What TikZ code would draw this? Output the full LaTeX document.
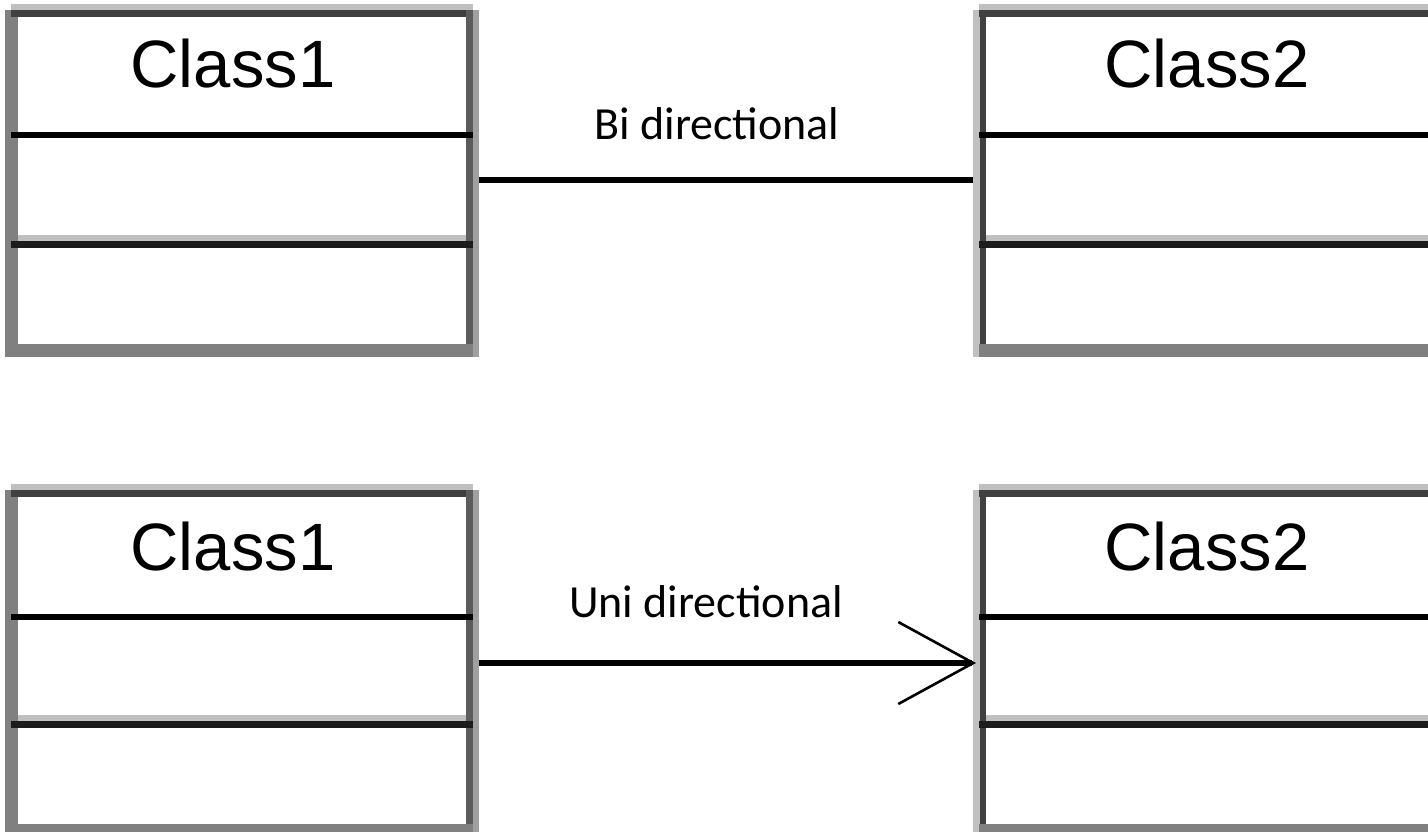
\documentclass[tikz,border=0pt]{standalone}
\usepackage{fontspec}
\setmainfont{Liberation Sans}
\newfontfamily\labelfont{Carlito}
\usetikzlibrary{arrows.meta}

\definecolor{frlight}{HTML}{C0C0C0}
\definecolor{frdark}{HTML}{404040}
\definecolor{frmid}{HTML}{5C5C5C}
\definecolor{frpale}{HTML}{A0A0A0}
\definecolor{frgray}{HTML}{808080}
\definecolor{frline}{HTML}{1C1C1C}

% Shaded frame of a class box with its two compartment lines.
% #1,#2 = top left, #3,#4 = bottom right, #5 = first divider,
% #6/#7 = outer/inner colour of the left edge
\newcommand\umlframe[7]{%
  \fill[#6] (#1,#2+6) rectangle (#1+6.5,#4);
  \fill[#7] (#1+6.5,#2+6) rectangle (#1+13,#4);
  \fill[frlight] (#1+6,#2) rectangle (#3-6,#2+6);
  \fill[frdark] (#1+6,#2+6) rectangle (#3-6,#2+13);
  \fill[frmid] (#3-13,#2+6) rectangle (#3-6,#4);
  \fill[frpale] (#3-6,#2+6) rectangle (#3,#4);
  \fill[frgray] (#1+6,#4-13) rectangle (#3-6,#4);
  \fill[black] (#1+6,#5) rectangle (#3-6,#5+6);
  \fill[frlight] (#1+13,#2+231) rectangle (#3-13,#2+237);
  \fill[frline] (#1+6,#2+237) rectangle (#3-6,#2+244);
}

\tikzset{
  classbox/.style={rectangle, inner sep=0pt, outer sep=0pt,
    minimum width=#1, minimum height=353pt},
  classname/.style={anchor=base, inner sep=0pt,
    font=\fontsize{67}{80}\selectfont, text=black},
  assoclabel/.style={anchor=base, inner sep=0pt,
    font=\labelfont\fontsize{46}{55}\selectfont},
  assoc/.style={line width=6pt, black},
  navigable/.style={assoc,
    -{Straight Barb[length=75pt, width=82pt, line width=2.6pt]}},
}

\begin{document}
\begin{tikzpicture}[x=1pt, y=-1pt]
\useasboundingbox[fill=white] (0,0) rectangle (1428,832);

% frames
\umlframe{5}{4}{479}{357}{132}{frgray}{frgray}
\umlframe{973}{4}{1441}{357}{132}{frlight}{frdark}
\umlframe{5}{484}{479}{837}{614}{frgray}{frgray}
\umlframe{973}{484}{1441}{837}{614}{frlight}{frdark}

% class boxes
\node[classbox=474pt] (c1) at (242,180.5) {};
\node[classbox=468pt] (c2) at (1207,180.5) {};
\node[classbox=474pt] (c3) at (242,663) {};
\node[classbox=468pt] (c4) at (1207,663) {};

% class names
\node[classname] (n1) at (233,88) {Class1};
\node[classname] (n2) at (1207,88) {Class2};
\node[classname] (n3) at (233,570) {Class1};
\node[classname] (n4) at (1207,570) {Class2};

% associations
\draw[assoc] (c1.east) -- (c2.west);
\node[assoclabel] (l1) at (717,140) {Bi directional};
\draw[navigable] (c3.east) -- ([xshift=3pt]c4.west);
\node[assoclabel] (l2) at (706,617) {Uni directional};
\end{tikzpicture}
\end{document}
